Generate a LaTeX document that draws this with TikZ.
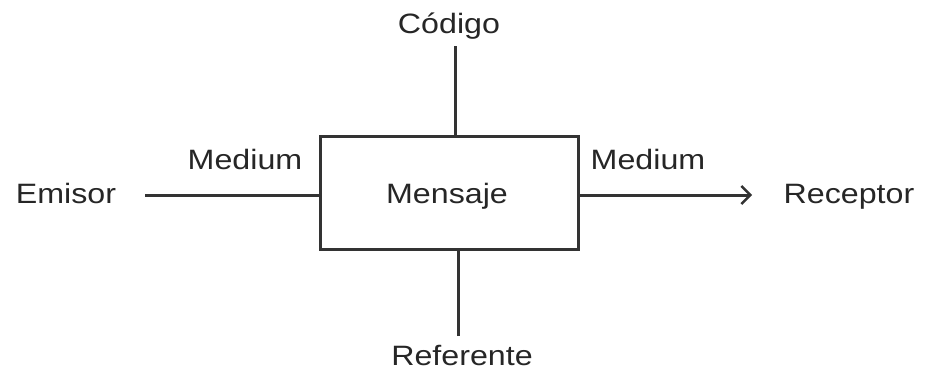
\documentclass[tikz,border=0pt]{standalone}
\usepackage{fontspec}
\setmainfont[FakeStretch=1.15]{Liberation Sans}
\usetikzlibrary{arrows.meta}
\begin{document}
\begin{tikzpicture}[x=1pt,y=-1pt,
  lbl/.style={font=\fontsize{28}{30}\selectfont, inner sep=0pt, text=black!85, anchor=base},
  wire/.style={line width=3pt, draw=black!80},
  box/.style={draw=black!80, line width=3pt, minimum width=258pt, minimum height=113pt, inner sep=0pt}]
\useasboundingbox (0,0) rectangle (926,373);
\node[box] (msg) at (449,192.5) {};
\node[lbl] (mtext) at (447,203) {Mensaje};
\node[lbl] (cod) at (449,33) {Código};
\node[lbl] (ref) at (462,365) {Referente};
\node[lbl] (emi) at (66,203) {Emisor};
\node[lbl] (rec) at (849,203) {Receptor};
\node[lbl] (med1) at (245,169) {Medium};
\node[lbl] (med2) at (648,169) {Medium};
\coordinate (ctop) at (455,46);
\coordinate (rbot) at (458,336);
\coordinate (eend) at (145,195);
\coordinate (rend) at (752,195);
\draw[wire] (ctop) -- (ctop |- msg.north);
\draw[wire] (rbot) -- (rbot |- msg.south);
\draw[wire] (eend) -- (eend -| msg.west);
\draw[wire, -{Straight Barb[length=9pt,width=18pt,line width=2.4pt]}] (rend -| msg.east) -- (rend);
\end{tikzpicture}
\end{document}
